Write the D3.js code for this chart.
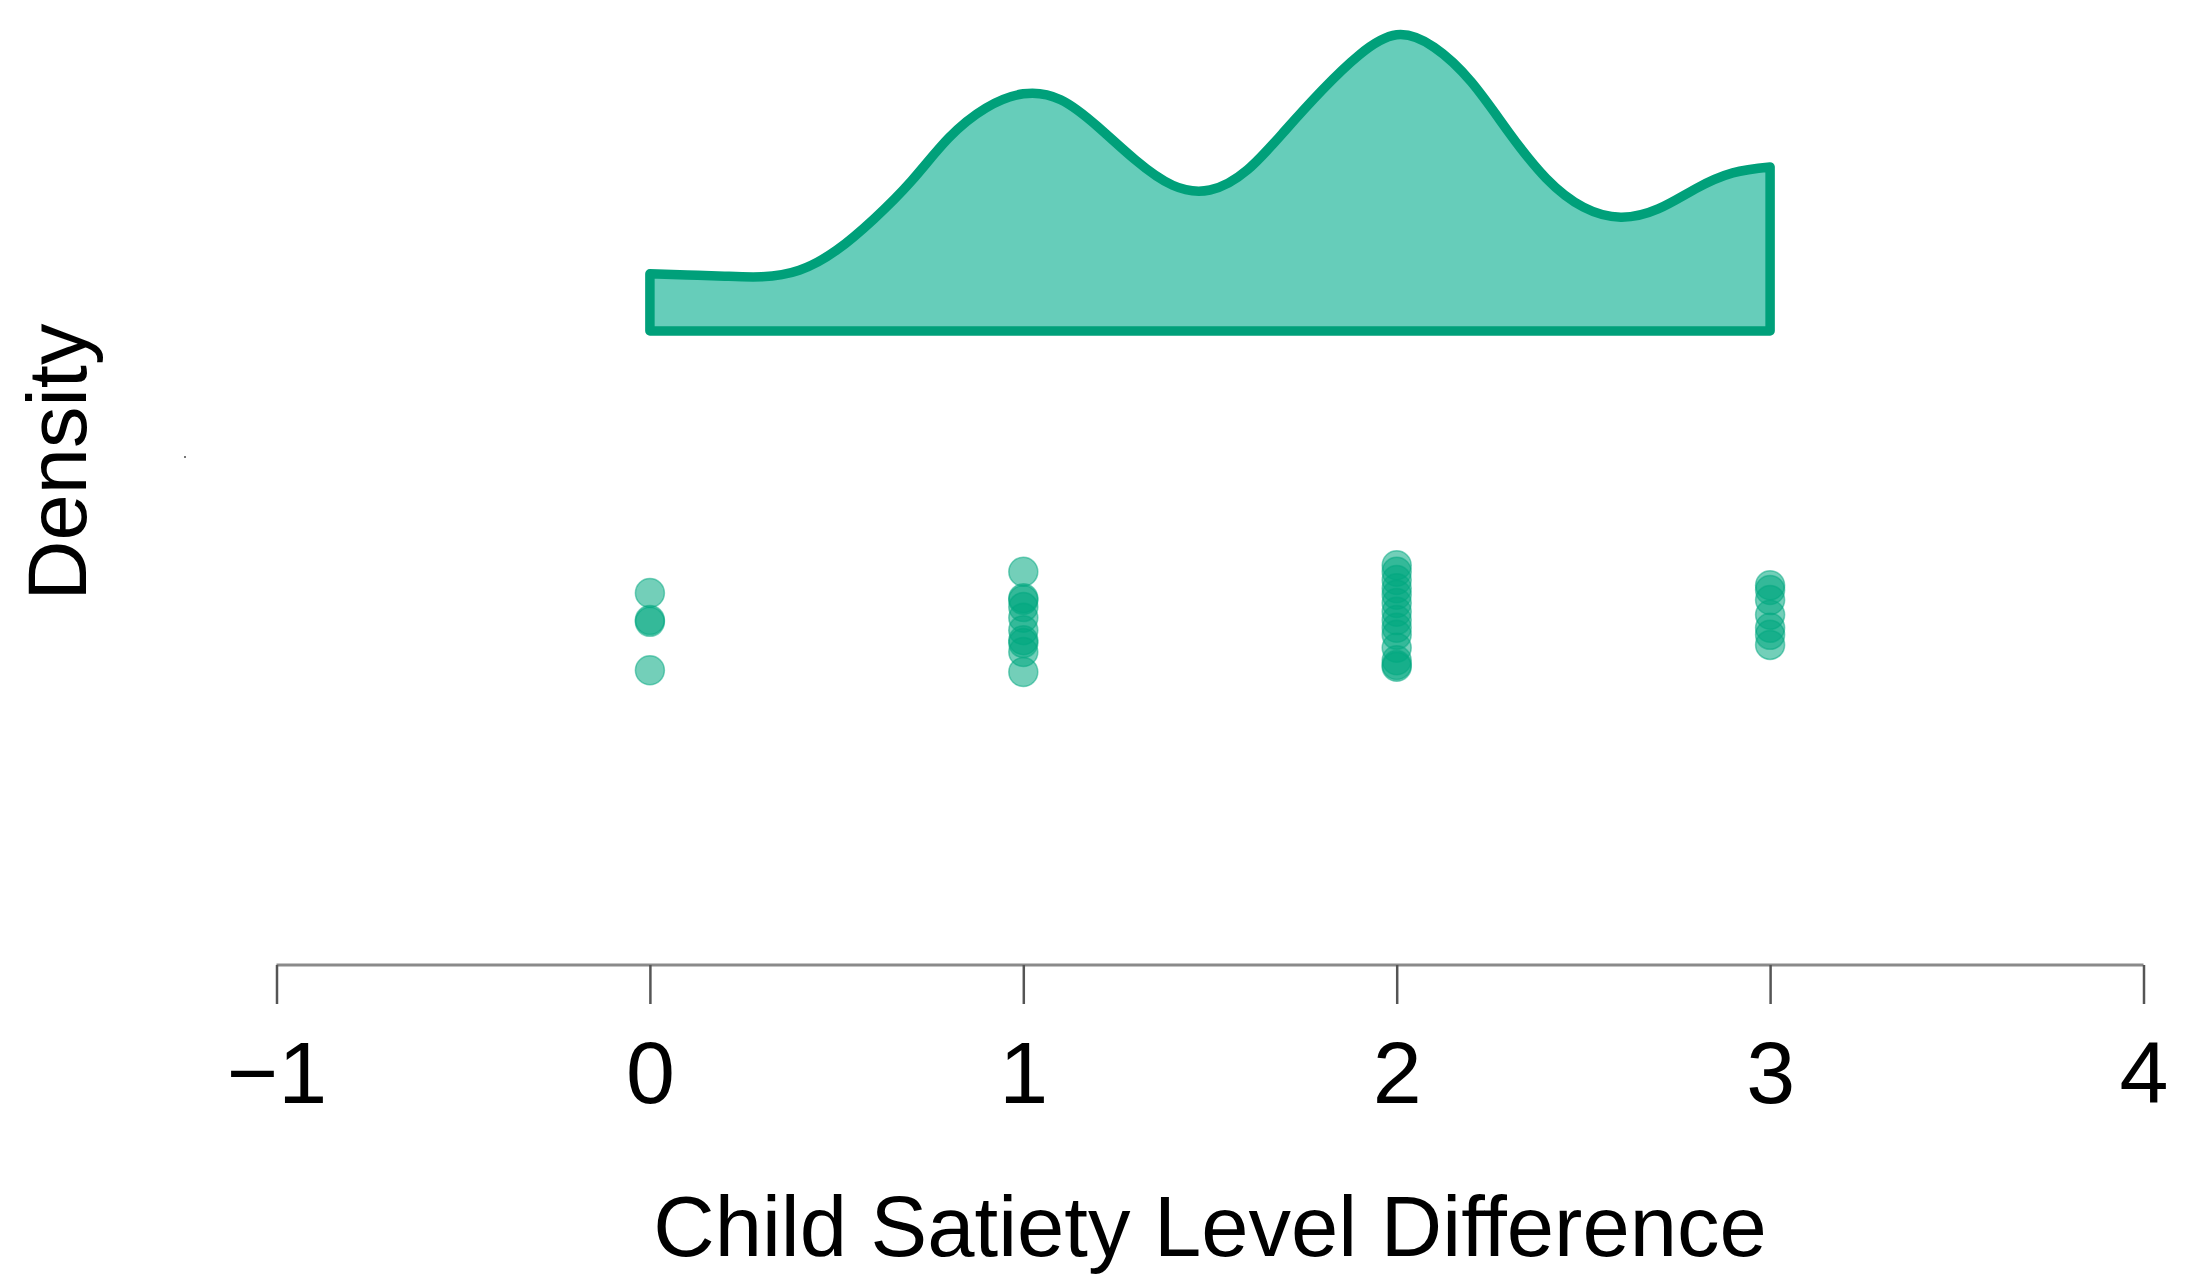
<!DOCTYPE html>
<html>
<head>
<meta charset="utf-8">
<script src="https://cdn.jsdelivr.net/npm/d3@7"></script>
<style>
    body { margin: 0; background: #fff; }
    text { font-family: "Liberation Sans", Arial, sans-serif; fill: #000; }
</style>
</head>
<body>
<svg id="chart" width="2186" height="1284"></svg>
<script>
const densityX = [0, 0.1, 0.2, 0.3, 0.4, 0.5, 0.6, 0.7, 0.8, 0.9, 1.0,
    1.1, 1.2, 1.3, 1.4, 1.5, 1.6, 1.7, 1.8, 1.9, 2.0,
    2.1, 2.2, 2.3, 2.4, 2.5, 2.6, 2.7, 2.8, 2.9, 3.0];
const densityY = [0.097, 0.095, 0.093, 0.092, 0.103, 0.137, 0.190, 0.254, 0.327, 0.378, 0.402,
    0.392, 0.346, 0.290, 0.247, 0.239, 0.273, 0.339, 0.408, 0.468, 0.502,
    0.481, 0.422, 0.337, 0.259, 0.210, 0.193, 0.207, 0.241, 0.268, 0.278];

// raw observations (x) and their vertical jitter below the density
const pointX = [0, 0, 0, 0,
    1, 1, 1, 1, 1, 1, 1, 1, 1, 1,
    2, 2, 2, 2, 2, 2, 2, 2, 2, 2, 2, 2, 2, 2,
    3, 3, 3, 3, 3, 3, 3];
const pointJitter = [-0.444, -0.490, -0.493, -0.575,
    -0.408, -0.453, -0.456, -0.468, -0.486, -0.507, -0.524, -0.529, -0.544, -0.578,
    -0.397, -0.408, -0.422, -0.436, -0.447, -0.461, -0.476, -0.490, -0.503, -0.515, -0.537, -0.558, -0.566, -0.569,
    -0.431, -0.439, -0.456, -0.481, -0.503, -0.515, -0.532];

const xTicks = [-1, 0, 1, 2, 3, 4];
const xLabel = "Child Satiety Level Difference";
const yLabel = "Density";

const svg = d3.select("#chart");

const x = d3.scaleLinear().domain([-1, 4]).range([276.5, 2143.5]);
const y = d3.scaleLinear().domain([0, 0.5]).range([331, 36]);

const density = densityX.map((d, i) => ({ x: d, y: densityY[i] }));

const area = d3.area()
    .x(d => x(d.x))
    .y0(y(0))
    .y1(d => y(d.y))
    .curve(d3.curveNatural);

svg.append("path")
    .datum(density)
    .attr("d", area)
    .attr("fill", "#66CDBA")
    .attr("stroke", "#00A07A")
    .attr("stroke-width", 9.5)
    .attr("stroke-linejoin", "round");

// jittered points
svg.append("g")
    .selectAll("circle")
    .data(pointX)
    .join("circle")
    .attr("cx", d => x(d))
    .attr("cy", (d, i) => y(pointJitter[i]))
    .attr("r", 14.5)
    .attr("fill", "#00A87F")
    .attr("fill-opacity", 0.55)
    .attr("stroke", "#00A87F")
    .attr("stroke-opacity", 0.5)
    .attr("stroke-width", 1.5);

// x axis
const axis = svg.append("g")
    .attr("transform", "translate(0,965)")
    .call(d3.axisBottom(x).tickValues(xTicks).tickSize(39)
        .tickFormat(d => d < 0 ? "\u2212" + Math.abs(d) : d));

axis.select(".domain")
    .attr("d", `M${x(-1)},0H${x(4)}`)
    .attr("stroke", "#8a8a8a")
    .attr("stroke-width", 3);
axis.selectAll(".tick line")
    .attr("stroke", "#555")
    .attr("stroke-width", 2.5);
axis.selectAll(".tick text")
    .attr("font-size", 88)
    .attr("font-family", "Liberation Sans, Arial, sans-serif")
    .attr("fill", "#000")
    .attr("dy", null)
    .attr("y", 138);

svg.append("text")
    .attr("x", 1210)
    .attr("y", 1256)
    .attr("text-anchor", "middle")
    .attr("font-size", 85)
    .text(xLabel);

svg.append("text")
    .attr("transform", "translate(86,462) rotate(-90)")
    .attr("text-anchor", "middle")
    .attr("font-size", 83)
    .text(yLabel);

// stray speck left of the plot
svg.append("rect")
    .attr("x", 184).attr("y", 456)
    .attr("width", 2).attr("height", 2)
    .attr("fill", "#777");
</script>
</body>
</html>
